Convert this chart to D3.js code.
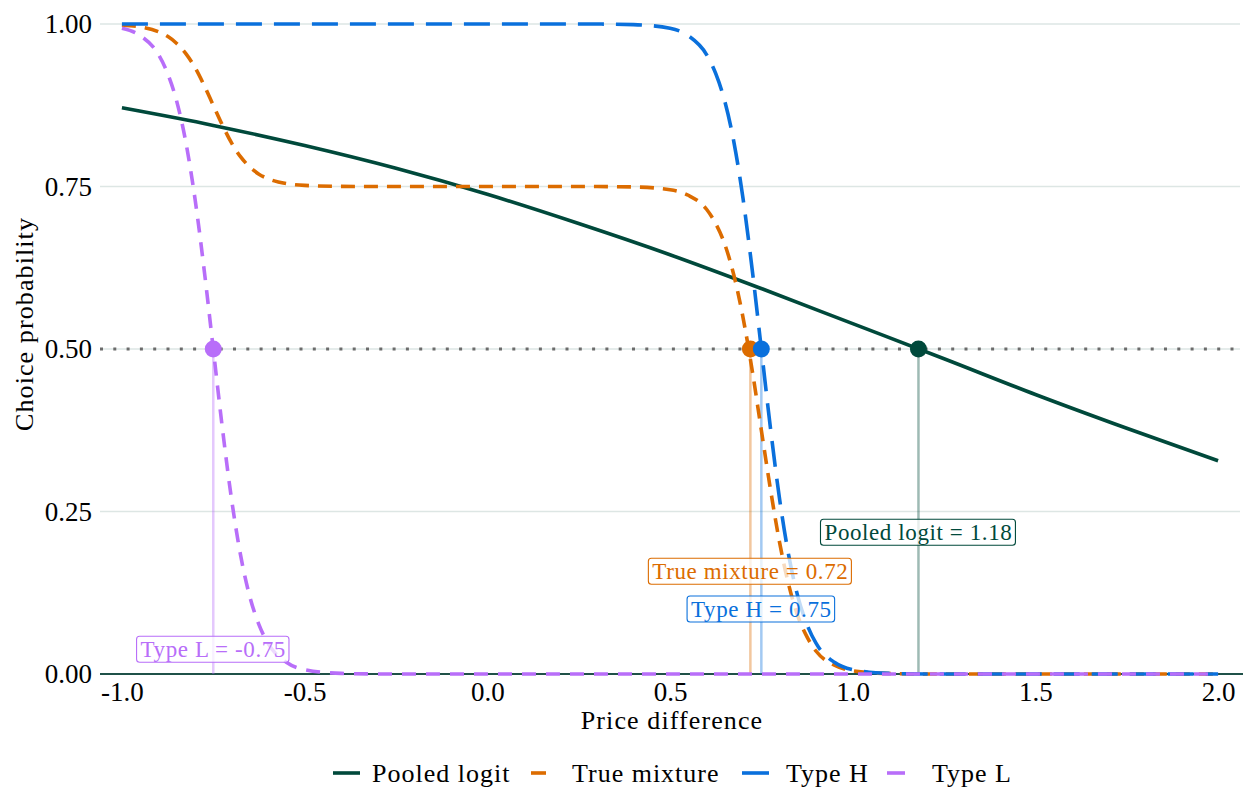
<!DOCTYPE html>
<html>
<head>
<meta charset="utf-8">
<script src="https://cdn.jsdelivr.net/npm/d3@7"></script>
<style>
  body { margin: 0; background: #fff; }
  svg { display: block; font-family: "Liberation Serif", "DejaVu Serif", serif; }
</style>
</head>
<body>
<div id="chart"></div>
<script>
// series names + colours
const seriesNames = ["Pooled logit", "True mixture", "Type H", "Type L"];
const seriesColours = ["#00493B", "#DC6C00", "#0A70DC", "#B86EF9"];
const seriesDash = [null, "14 9", "26 12", "14 10"];

// values
const pooledX = [-1, -0.75, -0.5, -0.25, 0, 0.25, 0.5, 0.75, 1.0, 1.25, 1.5, 1.75, 2.0];
const pooledP = [0.871, 0.844, 0.813, 0.778, 0.738, 0.693, 0.645, 0.593, 0.539, 0.485, 0.430, 0.378, 0.328];

const mixX = [-1, -0.95, -0.9, -0.875, -0.85, -0.825, -0.8, -0.775, -0.75, -0.725, -0.7, -0.675, -0.65, -0.625, -0.6, -0.55, -0.5, -0.4, -0.3,
  0.3, 0.4, 0.5, 0.55, 0.6, 0.625, 0.65, 0.675, 0.7, 0.725, 0.75, 0.775, 0.8, 0.825, 0.85, 0.875, 0.9, 0.95, 1.0, 1.1, 1.2, 2.0];
const mixP = [0.998, 0.9955, 0.988, 0.981, 0.970, 0.9545, 0.933, 0.9055, 0.875, 0.8445, 0.817, 0.7955, 0.780, 0.769, 0.762, 0.7545, 0.7517, 0.7502, 0.750,
  0.7499, 0.7493, 0.745, 0.7365, 0.715, 0.693, 0.661, 0.613, 0.548, 0.467, 0.375, 0.284, 0.202, 0.137, 0.089, 0.057, 0.035, 0.0135, 0.005, 0.0007, 0.0001, 0];

const typeHX = [-1, 0.3, 0.4, 0.5, 0.55, 0.6, 0.625, 0.65, 0.675, 0.7, 0.725, 0.75, 0.775, 0.8, 0.825, 0.85, 0.875, 0.9, 0.95, 1.0, 1.1, 1.2, 2.0];
const typeHP = [1.0, 0.9999, 0.9991, 0.9933, 0.982, 0.953, 0.924, 0.881, 0.818, 0.731, 0.622, 0.5, 0.378, 0.269, 0.182, 0.119, 0.076, 0.047, 0.018, 0.0067, 0.0009, 0.0001, 0];

const typeLX = [-1, -0.95, -0.9, -0.875, -0.85, -0.825, -0.8, -0.775, -0.75, -0.725, -0.7, -0.675, -0.65, -0.625, -0.6, -0.55, -0.5, -0.4, -0.3, 2.0];
const typeLP = [0.9933, 0.982, 0.953, 0.924, 0.881, 0.818, 0.731, 0.622, 0.5, 0.378, 0.269, 0.182, 0.119, 0.076, 0.047, 0.018, 0.0067, 0.0009, 0.0001, 0];

// where each curve crosses 0.5, and label heights
const crossX = [1.18, 0.72, 0.75, -0.75];
const labelY = [0.218, 0.158, 0.10, 0.038];
const labelText = ["Pooled logit = 1.18", "True mixture = 0.72", "Type H = 0.75", "Type L = -0.75"];

const xTicks = [-1.0, -0.5, 0.0, 0.5, 1.0, 1.5, 2.0];
const yTicks = [0, 0.25, 0.5, 0.75, 1.0];

const W = 1250, H = 790;
const x = d3.scaleLinear().domain([-1.06, 2.06]).range([100, 1240]);
const y = d3.scaleLinear().domain([0, 1]).range([674, 24]);
const hyphen = (f) => (d) => f(d).replace("\u2212", "-");

const svg = d3.select("#chart").append("svg").attr("width", W).attr("height", H);

// gridlines
svg.append("g").selectAll("line").data(yTicks.slice(1)).join("line")
  .attr("x1", 100).attr("x2", 1240)
  .attr("y1", d => y(d)).attr("y2", d => y(d))
  .attr("stroke", "#dde6e4").attr("stroke-width", 1.5);

// zero line
svg.append("line")
  .attr("x1", 100).attr("x2", 1243).attr("y1", y(0)).attr("y2", y(0))
  .attr("stroke", "#1f5148").attr("stroke-width", 2);

// 0.5 dotted reference
svg.append("line")
  .attr("x1", 100).attr("x2", 1240).attr("y1", y(0.5)).attr("y2", y(0.5))
  .attr("stroke", "#6b6b6b").attr("stroke-width", 3).attr("stroke-dasharray", "3 10.3");

// drop lines from crossing to zero
svg.append("g").selectAll("line").data(crossX).join("line")
  .attr("x1", d => x(d)).attr("x2", d => x(d))
  .attr("y1", y(0.5)).attr("y2", y(0))
  .attr("stroke", (d, i) => seriesColours[i]).attr("stroke-opacity", 0.38).attr("stroke-width", 2.5);

// curves
const seriesData = [
  pooledX.map((v, i) => [v, pooledP[i]]),
  mixX.map((v, i) => [v, mixP[i]]),
  typeHX.map((v, i) => [v, typeHP[i]]),
  typeLX.map((v, i) => [v, typeLP[i]])
];
const line = d3.line().x(d => x(d[0])).y(d => y(d[1])).curve(d3.curveMonotoneX);

svg.append("g").selectAll("path").data(seriesData).join("path")
  .attr("d", line)
  .attr("fill", "none")
  .attr("stroke", (d, i) => seriesColours[i])
  .attr("stroke-width", 3.6)
  .attr("stroke-dasharray", (d, i) => seriesDash[i]);

// crossing dots
svg.append("g").selectAll("circle").data(crossX).join("circle")
  .attr("cx", d => x(d)).attr("cy", y(0.5)).attr("r", 8.5)
  .attr("fill", (d, i) => seriesColours[i]);

// labels with boxes
const labels = svg.append("g").selectAll("g").data(crossX).join("g");
labels.each(function (d, i) {
  const g = d3.select(this);
  const t = g.append("text")
    .attr("x", x(d)).attr("y", y(labelY[i]))
    .attr("text-anchor", "middle").attr("dominant-baseline", "central")
    .attr("font-size", 23).attr("letter-spacing", 0.6)
    .attr("fill", seriesColours[i])
    .text(labelText[i]);
  const bb = t.node().getBBox();
  g.insert("rect", "text")
    .attr("x", bb.x - 4).attr("y", y(labelY[i]) - 13)
    .attr("width", bb.width + 7).attr("height", 26)
    .attr("rx", 3)
    .attr("fill", "#fff").attr("fill-opacity", 0.75)
    .attr("stroke", seriesColours[i]).attr("stroke-width", 1.1);
});

// axes
const xAxis = svg.append("g").attr("transform", `translate(0,${y(0)})`)
  .call(d3.axisBottom(x).tickValues(xTicks).tickSize(0).tickPadding(8).tickFormat(hyphen(d3.format(".1f"))));
xAxis.select(".domain").remove();
xAxis.selectAll("text").attr("font-size", 27).attr("fill", "#000").attr("font-family", "Liberation Serif, serif");

const yAxis = svg.append("g").attr("transform", "translate(100,0)")
  .call(d3.axisLeft(y).tickValues(yTicks).tickSize(0).tickPadding(8).tickFormat(d3.format(".2f")));
yAxis.select(".domain").remove();
yAxis.selectAll("text").attr("font-size", 27).attr("fill", "#000").attr("font-family", "Liberation Serif, serif");

// axis titles
svg.append("text").attr("x", 672).attr("y", 729).attr("text-anchor", "middle")
  .attr("font-size", 26).attr("letter-spacing", 1.1).text("Price difference");
svg.append("text").attr("transform", "translate(33,324) rotate(-90)").attr("text-anchor", "middle")
  .attr("font-size", 26).attr("letter-spacing", 1.1).text("Choice probability");

// legend (keys show the first dash of each pattern, as in the original)
const legend = svg.append("g").attr("transform", "translate(0,773)");
const legendKeyX = [333, 531, 742, 887];
const legendKeyLen = [27, 15, 27, 18];
const legendTextX = [372, 572, 786, 932];
seriesNames.forEach((name, i) => {
  legend.append("line")
    .attr("x1", legendKeyX[i]).attr("x2", legendKeyX[i] + legendKeyLen[i]).attr("y1", 0).attr("y2", 0)
    .attr("stroke", seriesColours[i]).attr("stroke-width", 3.6);
  legend.append("text")
    .attr("x", legendTextX[i]).attr("y", 0)
    .attr("dominant-baseline", "central").attr("font-size", 26).attr("letter-spacing", 1)
    .text(name);
});
</script>
</body>
</html>
